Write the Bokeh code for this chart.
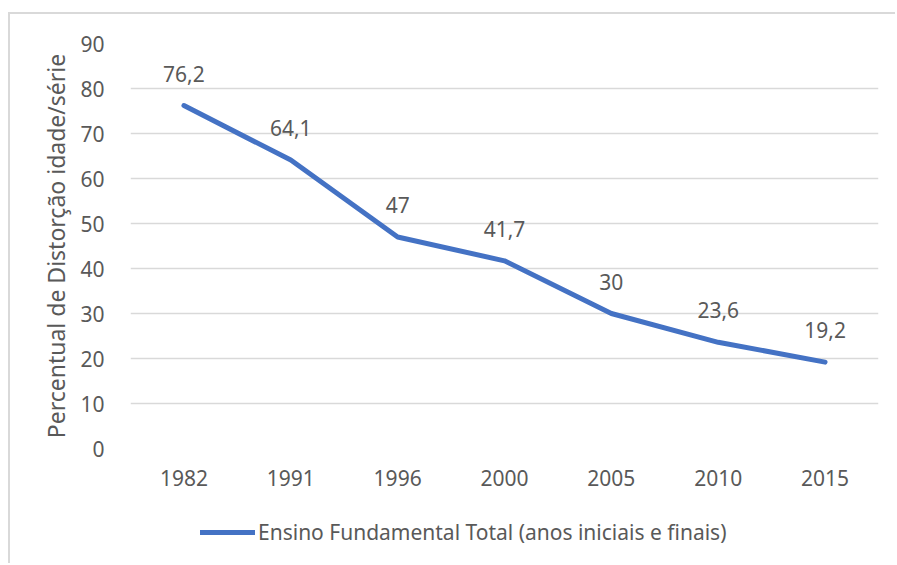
from bokeh.plotting import figure
from bokeh.layouts import column
from bokeh.models import ColumnDataSource, Legend, LegendItem, FixedTicker, LabelSet
from bokeh.core.properties import value
from bokeh.embed import file_html
from bokeh.resources import INLINE

years = ["1982", "1991", "1996", "2000", "2005", "2010", "2015"]
values = [76.2, 64.1, 47, 41.7, 30, 23.6, 19.2]
value_labels = ["76,2", "64,1", "47", "41,7", "30", "23,6", "19,2"]
y_ticks = [0, 10, 20, 30, 40, 50, 60, 70, 80, 90]
series_name = "Ensino Fundamental Total (anos iniciais e finais)"
y_title = "Percentual de Distorção idade/série"

FONT = "Noto Sans"
TXT = "#595959"
FS = "21px"
LINE = "#4472C4"

src = ColumnDataSource(dict(x=years, y=values, lab=value_labels))

p = figure(x_range=years, y_range=(0, 90), width=887, height=494,
           output_backend="svg", toolbar_location=None,
           min_border_left=120, min_border_right=19,
           min_border_top=29, min_border_bottom=60)
p.outline_line_color = None
p.background_fill_color = "white"
p.border_fill_color = "white"

p.xgrid.grid_line_color = None
p.ygrid.grid_line_color = "#d9d9d9"
p.ygrid.grid_line_width = 1.5

p.yaxis.ticker = FixedTicker(ticks=y_ticks)
for ax in (p.xaxis[0], p.yaxis[0]):
    ax.axis_line_color = None
    ax.major_tick_line_color = None
    ax.minor_tick_line_color = None
    ax.major_label_text_color = TXT
    ax.major_label_text_font = FONT
    ax.major_label_text_font_size = FS
p.yaxis.major_label_standoff = 20
p.xaxis.major_label_standoff = 15
p.yaxis.axis_label = y_title
p.yaxis.axis_label_text_font = FONT
p.yaxis.axis_label_text_font_size = "23px"
p.yaxis.axis_label_text_font_style = "normal"
p.yaxis.axis_label_text_color = TXT
p.yaxis.axis_label_standoff = 5

p.line("x", "y", source=src, line_color=LINE, line_width=5,
       line_cap="round", line_join="round")

labels = LabelSet(x="x", y="y", text="lab", source=src, y_offset=24,
                  text_align="center", text_baseline="bottom",
                  text_font=value(FONT), text_font_size=FS, text_color=TXT)
p.add_layout(labels)

# legend strip below the chart
p2 = figure(width=887, height=57, x_range=(0, 1), y_range=(0, 1),
            output_backend="svg", toolbar_location=None,
            min_border=0, min_border_left=0, min_border_right=0,
            min_border_top=0, min_border_bottom=0)
p2.axis.visible = False
p2.grid.visible = False
p2.outline_line_color = None
p2.background_fill_color = "white"
p2.border_fill_color = "white"
dummy = p2.line(x=[-10, -9], y=[-10, -9], line_color=LINE, line_width=5,
                line_cap="round")
legend = Legend(items=[LegendItem(label=series_name, renderers=[dummy])],
                location=(70, 19), orientation="horizontal",
                label_text_font=FONT, label_text_font_size=FS,
                label_text_color=TXT, glyph_width=55, label_standoff=3,
                border_line_color=None, background_fill_alpha=0,
                padding=0, margin=0)
p2.add_layout(legend, "center")

layout = column(p, p2, spacing=0)
layout.margin = (14, 0, 0, 10)
layout.styles = {"box-shadow": "-2px -2px 0 0 #d9d9d9", "background": "white"}

open("out.html", "w").write(file_html(layout, INLINE))
